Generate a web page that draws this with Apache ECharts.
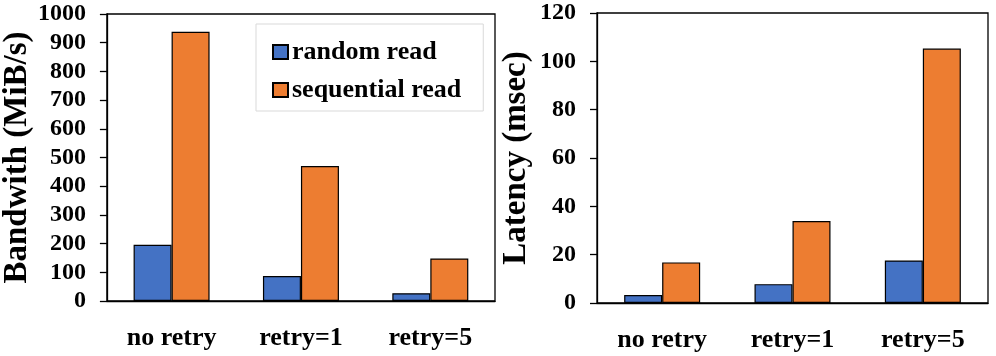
<!DOCTYPE html>
<html>
<head>
<meta charset="utf-8">
<script src="https://cdn.jsdelivr.net/npm/echarts@6/dist/echarts.min.js"></script>
<style>html,body{margin:0;padding:0;background:#fff}#c{width:996px;height:356px}</style>
</head>
<body>
<div id="c"></div>
<script>
const categories = ['no retry', 'retry=1', 'retry=5'];
const seriesNames = ['random read', 'sequential read'];
const bandwidthRandom = [196, 87, 27];
const bandwidthSeq = [938, 470, 148];
const latencyRandom = [3.3, 7.8, 17.6];
const latencySeq = [16.8, 33.9, 105.3];
const bandwidthTicks = {min: 0, max: 1000, interval: 100};
const latencyTicks = {min: 0, max: 120, interval: 20};

const FONT = "'Liberation Serif', 'Times New Roman', serif";
const BLUE = '#4472C4', ORANGE = '#ED7D31';
const chart = echarts.init(document.getElementById('c'), null, {renderer: 'canvas'});

function xAxis(gridIndex) {
  return {
    type: 'category', gridIndex, data: categories,
    axisLine: {lineStyle: {color: '#000', width: 1.3}},
    axisTick: {show: false},
    axisLabel: {color: '#000', fontFamily: FONT, fontWeight: 'bold', fontSize: 26, margin: 24}
  };
}
function yAxis(gridIndex, ticks, name, gap) {
  return {
    type: 'value', gridIndex, min: ticks.min, max: ticks.max, interval: ticks.interval,
    name, nameLocation: 'middle', nameGap: gap, nameRotate: 90,
    nameTextStyle: {color: '#000', fontFamily: FONT, fontWeight: 'bold', fontSize: 33},
    axisLine: {show: true, lineStyle: {color: '#000', width: 1.3}},
    axisTick: {show: true, inside: false, length: 7, lineStyle: {color: '#000', width: 1.3}},
    splitLine: {show: false},
    axisLabel: {color: '#000', fontFamily: FONT, fontWeight: 'bold', fontSize: 24, margin: 21,
      formatter: v => String(v)}
  };
}
function bar(name, color, data, xi, yi) {
  return {
    type: 'bar', name, data, xAxisIndex: xi, yAxisIndex: yi,
    barWidth: 38, barGap: '0%',
    itemStyle: {color, borderColor: '#000', borderWidth: 1.2}
  };
}

chart.setOption({
  animation: false,
  backgroundColor: '#fff',
  grid: [
    {left: 103, top: 14, width: 392, height: 287, show: true, borderColor: '#000', borderWidth: 1.3, backgroundColor: 'transparent'},
    {left: 597, top: 13, width: 391, height: 290, show: true, borderColor: '#000', borderWidth: 1.3, backgroundColor: 'transparent'}
  ],
  legend: {
    data: seriesNames.map(n => ({name: n, icon: 'rect'})),
    orient: 'vertical', left: 256, top: 24,
    padding: [15, 22, 8, 16],
    itemWidth: 15, itemHeight: 14, itemGap: 12,
    borderColor: '#d9d9d9', borderWidth: 1,
    textStyle: {color: '#000', fontFamily: FONT, fontWeight: 'bold', fontSize: 26, padding: [0, 0, 0, -1]}
  },
  xAxis: [xAxis(0), xAxis(1)],
  yAxis: [yAxis(0, bandwidthTicks, 'Bandwith (MiB/s)', 70), yAxis(1, latencyTicks, 'Latency (msec)', 64)],
  series: [
    bar(seriesNames[0], BLUE, bandwidthRandom, 0, 0),
    bar(seriesNames[1], ORANGE, bandwidthSeq, 0, 0),
    bar(seriesNames[0], BLUE, latencyRandom, 1, 1),
    bar(seriesNames[1], ORANGE, latencySeq, 1, 1)
  ]
});
</script>
</body>
</html>
